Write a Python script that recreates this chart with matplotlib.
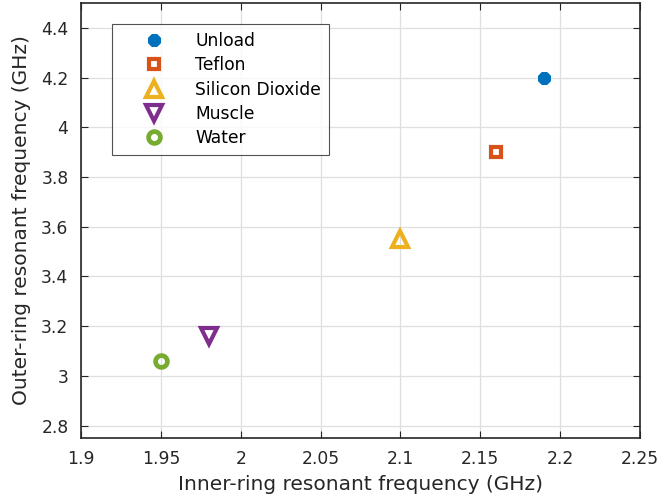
import numpy as np
import matplotlib.pyplot as plt

plt.rcParams['font.family'] = ['DejaVu Sans']

# resonant frequencies (GHz) for each load
names = ['Unload', 'Teflon', 'Silicon Dioxide', 'Muscle', 'Water']
inner = [2.19, 2.16, 2.10, 1.98, 1.95]
outer = [4.20, 3.90, 3.55, 3.16, 3.06]

colors = ['#0072BD', '#D95319', '#EDB120', '#7E2F8E', '#77AC30']
markers = [(8, 2, 0), 's', '^', 'v', 'o']
sizes = [9, 7.5, 11, 11, 8.5]
edges = [3.5, 3, 3, 3, 3.4]

fig = plt.figure(figsize=(6.58, 5.04), dpi=100)
ax = fig.add_axes([81/658, 66/504, 559/658, 435/504])

for n, x, y, c, m, s, w in zip(names, inner, outer, colors, markers, sizes, edges):
    ax.plot(x, y, linestyle='none', marker=m, markersize=s,
            markerfacecolor='none', markeredgecolor=c,
            markeredgewidth=w, label=n)

ax.set_xlim(1.9, 2.25)
ax.set_ylim(2.75, 4.5)
ax.set_xticks(np.arange(1.9, 2.251, 0.05))
ax.set_xticklabels(['1.9', '1.95', '2', '2.05', '2.1', '2.15', '2.2', '2.25'])
ax.set_yticks(np.arange(2.8, 4.41, 0.2))
ax.set_yticklabels(['2.8', '3', '3.2', '3.4', '3.6', '3.8', '4', '4.2', '4.4'])
ax.grid(True, color='#DFDFDF', linewidth=0.9)
ax.set_axisbelow(True)
ax.tick_params(direction='in', top=True, right=True, length=5,
               labelsize=12.3, colors='#262626', pad=9)
for sp in ax.spines.values():
    sp.set_linewidth(1.2)
    sp.set_color('#262626')

ax.set_xlabel('Inner-ring resonant frequency (GHz)', fontsize=14.5, color='#262626', labelpad=5)
ax.set_ylabel('Outer-ring resonant frequency (GHz)', fontsize=14.5, color='#262626', labelpad=7)

leg = ax.legend(loc='upper left', bbox_to_anchor=(0.055, 0.951), fontsize=12.3,
                frameon=True, fancybox=False, edgecolor='#262626',
                borderpad=0.45, handletextpad=0.45, labelspacing=0.37,
                handlelength=4.0, borderaxespad=0)
leg.get_frame().set_linewidth(0.8)

fig.savefig('out.png', dpi=100)
